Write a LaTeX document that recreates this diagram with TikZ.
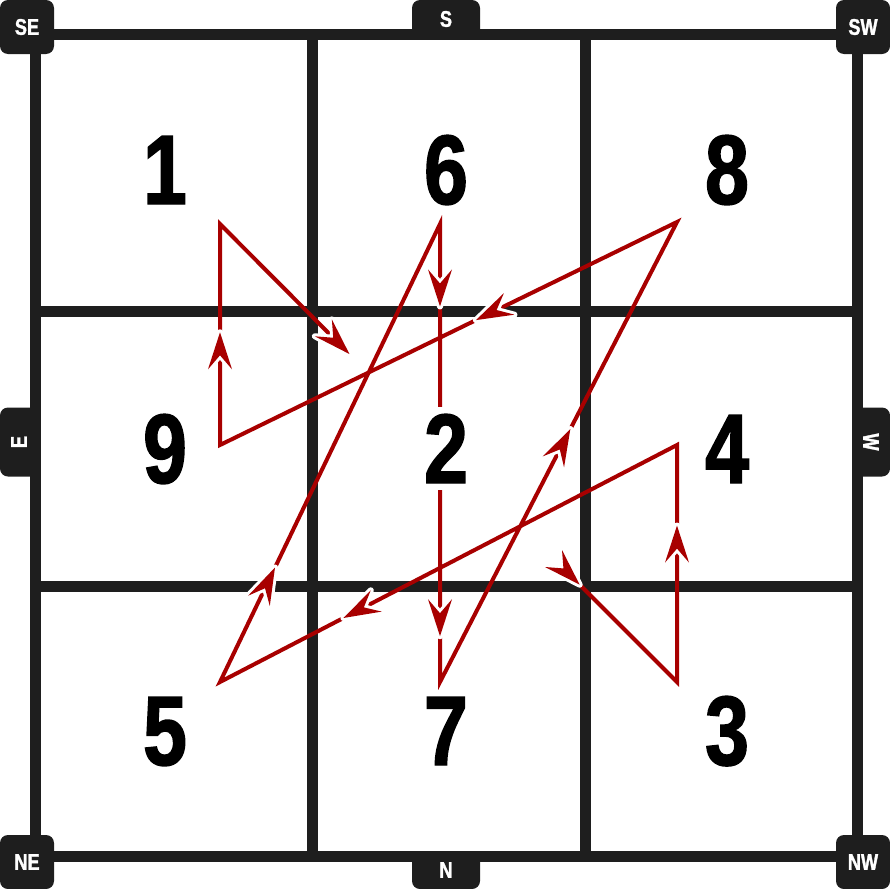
\documentclass[tikz,border=0pt]{standalone}
\usepackage{fontspec}
\usepackage{graphicx}
\usetikzlibrary{calc,decorations.markings}
\newfontfamily\gridfont[FakeStretch=0.8, BoldFeatures={FakeBold=1.5}]{Liberation Sans}
\definecolor{flyred}{RGB}{168,0,0}
\definecolor{tabgray}{RGB}{30,30,30}
\newcommand{\flytip}{%
  \draw[white, line width=4.5pt, line join=round] (0,0) -- (-37,12) -- (-23,0) -- (-37,-12) -- cycle;
  \fill[flyred] (0,0) -- (-37,12) -- (-23,0) -- (-37,-12) -- cycle;}

\begin{document}
\begin{tikzpicture}[x=0.75pt, y=-0.75pt,
  gridline/.style={line width=8.25pt, color=tabgray},
  flypath/.style={flyred, line width=3pt, line join=miter},
  tipmark/.style={decoration={markings, mark=at position #1 with {\flytip}}, decorate},
  digit/.style={anchor=base, fill=white, inner sep=5pt, font=\gridfont\bfseries\fontsize{74}{74}\selectfont},
  tab/.style={fill=tabgray, text=white, rounded corners=6pt, inner sep=0pt, font=\gridfont\bfseries\fontsize{17}{17}\selectfont}]
  \useasboundingbox (0,0) rectangle (890,889);
  % grid
  \draw[gridline] (35,34) rectangle (857,856);
  \draw[gridline] (312,34) -- (312,856);
  \draw[gridline] (585,34) -- (585,856);
  \draw[gridline] (35,311) -- (857,311);
  \draw[gridline] (35,586) -- (857,586);
  % star points
  \coordinate (p1) at (220,224);
  \coordinate (p6) at (440,224);
  \coordinate (p8) at (677,222);
  \coordinate (p9) at (220,445);
  \coordinate (p2) at (440,445);
  \coordinate (p4) at (677,445);
  \coordinate (p5) at (220,682);
  \coordinate (p7) at (440,682);
  \coordinate (p3) at (677,682);
  \coordinate (c12) at ($(p1)!0.59!(p2)$);
  \coordinate (c23) at ($(p2)!0.59!(p3)$);
  \coordinate (s23) at ($(p2)!0.52!(p3)$);
  % flying path
  \draw[flypath] (s23) -- (p3) -- (p4) -- (p5) -- (p6) -- (p7) -- (p8) -- (p9) -- (p1) -- (c12);
  \path[tipmark=0.999] (p1) -- (c12);
  \path[tipmark=0.999] (p2) -- (c23);
  \path[tipmark=0.66] (p3) -- (p4);
  \path[tipmark=0.73] (p4) -- (p5);
  \path[tipmark=0.25] (p5) -- (p6);
  \path[tipmark=0.18] (p6) -- (p7);
  \path[tipmark=0.90] (p6) -- (p7);
  \path[tipmark=0.55] (p7) -- (p8);
  \path[tipmark=0.44] (p8) -- (p9);
  \path[tipmark=0.51] (p9) -- (p1);
  % numbers
  \node[digit] (n1) at (165,204) {1};
  \node[digit] (n6) at (446,204) {6};
  \node[digit] (n8) at (727,204) {8};
  \node[digit] (n9) at (165,483) {9};
  \node[digit] (n2) at (446,483) {2};
  \node[digit] (n4) at (727,483) {4};
  \node[digit] (n5) at (165,765) {5};
  \node[digit] (n7) at (446,765) {7};
  \node[digit] (n3) at (727,765) {3};
  % direction tabs
  \node[tab, minimum width=40.5pt, minimum height=40.5pt] (se) at (27,27) {SE};
  \node[tab, minimum width=40.5pt, minimum height=40.5pt] (sw) at (863,27) {SW};
  \node[tab, minimum width=40.5pt, minimum height=40.5pt] (ne) at (27,862) {NE};
  \node[tab, minimum width=40.5pt, minimum height=40.5pt] (nw) at (863,862) {NW};
  \node[tab, minimum width=51pt, minimum height=28.5pt] (s) at (446,19) {S};
  \node[tab, minimum width=51pt, minimum height=28.5pt] (n) at (446,870) {N};
  \node[tab, minimum width=28.5pt, minimum height=51.75pt] (e) at (19,442) {\rotatebox{90}{E}};
  \node[tab, minimum width=28.5pt, minimum height=51.75pt] (w) at (871,442) {\rotatebox{-90}{W}};
\end{tikzpicture}
\end{document}
